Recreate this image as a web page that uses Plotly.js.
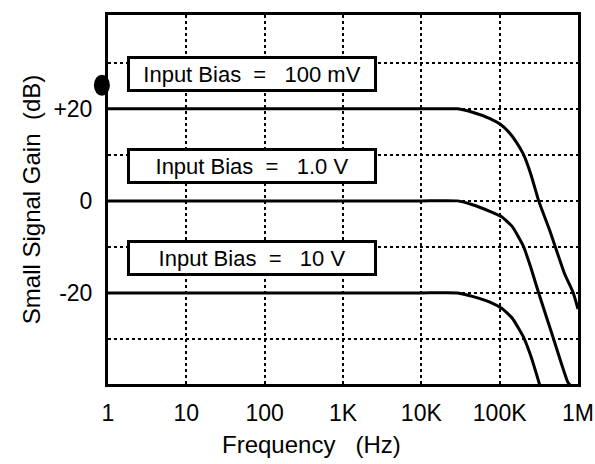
<!DOCTYPE html>
<html>
<head>
<meta charset="utf-8">
<script src="https://cdn.plot.ly/plotly-3.0.1.min.js"></script>
<style>html,body{margin:0;padding:0;background:#fff;}#chart{width:595px;height:464px;}</style>
</head>
<body>
<div id="chart"></div>
<script>
// ---- data ----
const freq100mV = [1, 10, 100, 1000, 10000, 29000, 46000, 75000, 101000, 130000, 160000, 200000, 250000, 315000, 437000, 513000, 676000, 871000, 1000000];
const gain100mV = [20, 20, 20, 20, 20, 20, 19.2, 17.9, 16.7, 15.0, 13.0, 10.2, 5.8, 0, -6.5, -10, -15.9, -20, -23.5];

const freq1V = [1, 10, 100, 1000, 10000, 29000, 46000, 75000, 107000, 145000, 200000, 250000, 309000, 479000, 741000, 794000];
const gain1V = [0, 0, 0, 0, 0, 0, -0.9, -2.3, -3.5, -5.6, -9.8, -14.5, -19.6, -29.6, -39.4, -40];

const freq10V = [1, 10, 100, 1000, 10000, 29000, 46000, 75000, 107000, 145000, 200000, 245000, 309000, 324000];
const gain10V = [-20, -20, -20, -20, -20, -20, -20.8, -22.0, -23.4, -25.5, -29.5, -33.3, -38.8, -40];

const xTickVals = [1, 10, 100, 1000, 10000, 100000, 1000000];
const xTickText = ['1', '10', '100', '1K', '10K', '100K', '1M'];
const yTickVals = [-30, -20, -10, 0, 10, 20, 30];
const yTickText = ['', '-20', '', '0', '', '+20', ''];

const NB = '\u00a0';
const boxLabels = [
  'Input Bias' + NB + NB + '=' + NB + NB + NB + '100 mV',
  'Input Bias' + NB + NB + '=' + NB + NB + NB + '1.0 V',
  'Input Bias' + NB + NB + '=' + NB + NB + NB + '10 V'
];

const FONT = 'Liberation Sans, Arial, Helvetica, sans-serif';
const lineStyle = {color: '#000', width: 3, shape: 'spline', smoothing: 0.45};

const traces = [
  {x: freq100mV, y: gain100mV, mode: 'lines', line: lineStyle, name: '100 mV', hoverinfo: 'skip'},
  {x: freq1V, y: gain1V, mode: 'lines', line: lineStyle, name: '1.0 V', hoverinfo: 'skip'},
  {x: freq10V, y: gain10V, mode: 'lines', line: lineStyle, name: '10 V', hoverinfo: 'skip'}
];

const boxY = [0.839, 0.591, 0.341];
const annotations = boxLabels.map((t, i) => ({
  text: t, xref: 'paper', yref: 'paper', x: 0.306, y: boxY[i],
  xanchor: 'center', yanchor: 'middle', showarrow: false,
  width: 244, height: 30, bgcolor: '#fff', bordercolor: '#000', borderwidth: 3, borderpad: 0,
  font: {family: FONT, size: 22, color: '#000'}
}));
annotations.push({
  text: 'Frequency' + NB + NB + NB + '(Hz)', xref: 'paper', yref: 'paper', x: 0.432, y: -0.165,
  xanchor: 'center', yanchor: 'middle', showarrow: false,
  font: {family: FONT, size: 24, color: '#000'}
});

const layout = {
  width: 595, height: 464,
  margin: {l: 108, r: 17, t: 15, b: 80},
  paper_bgcolor: '#fff', plot_bgcolor: '#fff',
  showlegend: false,
  font: {family: FONT, color: '#000'},
  xaxis: {
    type: 'log', range: [0, 6],
    tickmode: 'array', tickvals: xTickVals, ticktext: xTickText,
    ticks: '', ticklabelstandoff: 6,
    tickfont: {family: FONT, size: 23, color: '#000'},
    showgrid: true, gridcolor: '#000', gridwidth: 2, griddash: 'dot',
    showline: true, linecolor: '#000', linewidth: 3, mirror: true,
    zeroline: false
  },
  yaxis: {
    range: [-39.8, 40.4],
    tickmode: 'array', tickvals: yTickVals, ticktext: yTickText,
    ticks: '', ticklabelstandoff: 8,
    tickfont: {family: FONT, size: 23, color: '#000'},
    showgrid: true, gridcolor: '#000', gridwidth: 2, griddash: 'dot',
    showline: true, linecolor: '#000', linewidth: 3, mirror: true,
    zeroline: false,
    title: {text: 'Small Signal Gain' + NB + NB + '(dB)', font: {family: FONT, size: 24, color: '#000'}, standoff: 6}
  },
  annotations: annotations,
  shapes: [{
    type: 'circle', xref: 'paper', yref: 'paper',
    x0: -0.03, x1: 0.004, y0: 0.781, y1: 0.838,
    fillcolor: '#000', line: {width: 0}
  }]
};

Plotly.newPlot('chart', traces, layout, {staticPlot: true, displayModeBar: false});
</script>
</body>
</html>
